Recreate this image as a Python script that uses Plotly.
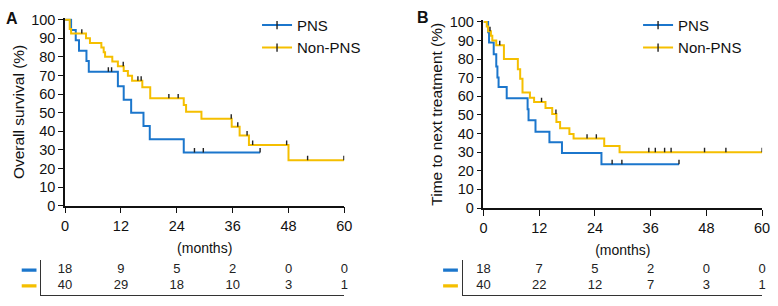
import plotly.graph_objects as go

# ---------------- data ----------------
# Panel A: overall survival (%)
A_PNS_t = [0, 1.3, 2.3, 3.0, 4.6, 5.1, 11.35, 12.6, 14.2, 16.85, 18.2, 25.5]
A_PNS_s = [100, 94.4, 88.9, 83.3, 77.8, 72.0, 64.2, 57.0, 49.9, 42.8, 35.7, 28.6]
A_PNS_cens = [9.3, 10.0, 27.8, 29.7, 41.9]

A_NON_t = [0, 1.0, 1.3, 4.5, 5.35, 7.8, 8.3, 8.6, 10.15, 11.35, 12.6, 13.5, 14.4,
           16.6, 18.3, 25.5, 26.0, 29.3, 35.8, 37.5, 39.5, 48.0]
A_NON_s = [100, 95, 92.5, 90, 87.5, 85, 82.5, 80, 77.5, 75, 72.4, 69.8, 67.2,
           63.7, 57.7, 54.1, 50.5, 46.7, 42.4, 37.8, 32.6, 24.4]
A_NON_cens = [3.6, 12.5, 15.65, 16.35, 22.3, 24.3, 35.7, 37.1, 39.1, 40.3, 47.6, 52.1, 59.9]

# Panel B: time to next treatment (%)
B_PNS_t = [0, 1.0, 1.2, 2.2, 2.75, 3.0, 3.25, 5.0, 9.5, 9.7, 11.2, 14.2, 16.9, 25.4]
B_PNS_s = [100, 94.4, 88.9, 82.6, 76.1, 70.1, 65.0, 59.0, 53.0, 47.1, 41.0, 35.4, 29.6, 23.5]
B_PNS_cens = [27.7, 29.8, 42.1]

B_NON_t = [0, 0.7, 1.0, 1.6, 1.9, 2.75, 4.4, 7.4, 7.9, 8.4, 10.0, 10.9, 13.35, 14.8,
           15.7, 16.5, 18.5, 19.4, 26.0, 29.3]
B_NON_s = [100, 97.5, 95, 92.5, 90, 87.5, 80, 74.5, 69.5, 62, 59.3, 56.9, 53.8, 50.5,
           46.2, 42.8, 39.8, 37.3, 33.3, 30.0]
B_NON_cens = [1.4, 3.5, 12.5, 15.6, 22.3, 24.3, 35.6, 37.0, 39.0, 40.4, 47.6, 52.2, 60.0]

# numbers at risk
RISK_T = [0, 12, 24, 36, 48, 60]
A_RISK_PNS = [18, 9, 5, 2, 0, 0]
A_RISK_NON = [40, 29, 18, 10, 3, 1]
B_RISK_PNS = [18, 7, 5, 2, 0, 0]
B_RISK_NON = [40, 22, 12, 7, 3, 1]

X_TICKS = [0, 12, 24, 36, 48, 60]
Y_TICKS = [0, 10, 20, 30, 40, 50, 60, 70, 80, 90, 100]
GROUPS = ["PNS", "Non-PNS"]

BLUE = "#1B76CC"
GOLD = "#F5BF00"
FONT = "Liberation Sans, Arial, sans-serif"
W, H = 778, 306


def step_val(ts, ss, t):
    v = ss[0]
    for ti, si in zip(ts, ss):
        if ti <= t:
            v = si
    return v


fig = go.Figure()


def add_curve(ts, ss, cens, color, xa, ya):
    end = max(max(cens), ts[-1])
    fig.add_trace(go.Scatter(x=ts + [end], y=ss + [ss[-1]], mode="lines",
                             line=dict(color=color, width=2, shape="hv"),
                             xaxis=xa, yaxis=ya, showlegend=False, hoverinfo="skip"))
    fig.add_trace(go.Scatter(x=cens, y=[step_val(ts, ss, c) for c in cens], mode="markers",
                             marker=dict(size=1, color="rgba(0,0,0,0)"),
                             error_y=dict(type="constant", symmetric=False, value=2.4,
                                          valueminus=0, width=0, thickness=1.4, color="#222"),
                             cliponaxis=False, xaxis=xa, yaxis=ya, showlegend=False,
                             hoverinfo="skip"))


add_curve(A_PNS_t, A_PNS_s, A_PNS_cens, BLUE, "x", "y")
add_curve(A_NON_t, A_NON_s, A_NON_cens, GOLD, "x", "y")
add_curve(B_PNS_t, B_PNS_s, B_PNS_cens, BLUE, "x2", "y2")
add_curve(B_NON_t, B_NON_s, B_NON_cens, GOLD, "x2", "y2")

# legend entries (line with a censor tick)
for leg, xa, ya in [("legend", "x", "y"), ("legend2", "x2", "y2")]:
    for name, color in zip(GROUPS, [BLUE, GOLD]):
        fig.add_trace(go.Scatter(x=[None], y=[None], mode="lines+markers", name=name,
                                 line=dict(color=color, width=2),
                                 marker=dict(symbol="line-ns", size=6,
                                             line=dict(width=1.4, color="#222")),
                                 xaxis=xa, yaxis=ya, legend=leg, showlegend=True))

# numbers-at-risk tables
for xa, ya, rp, rn in [("x3", "y3", A_RISK_PNS, A_RISK_NON), ("x4", "y4", B_RISK_PNS, B_RISK_NON)]:
    for row, vals in [(1, rp), (0, rn)]:
        fig.add_trace(go.Scatter(x=RISK_T, y=[row] * len(vals), mode="text",
                                 text=[str(v) for v in vals],
                                 textfont=dict(size=13, color="#222", family=FONT),
                                 cliponaxis=False, xaxis=xa, yaxis=ya, showlegend=False,
                                 hoverinfo="skip"))


def px_x(p):
    return p / W


def px_y(p):
    return 1 - p / H


main_x = dict(range=[0, 60], tickvals=X_TICKS, ticks="outside", ticklen=6, tickwidth=1.3,
              tickcolor="#111", showline=True, linecolor="#111", linewidth=1.5,
              showgrid=False, zeroline=False, tickfont=dict(size=14.5, color="#111"),
              title=dict(text="(months)", font=dict(size=14, color="#111"), standoff=10))
main_y = dict(range=[0, 100.8], tickvals=Y_TICKS, ticks="outside", ticklen=5, tickwidth=1.3,
              tickcolor="#111", showline=True, linecolor="#111", linewidth=1.5,
              showgrid=False, zeroline=False, tickfont=dict(size=14.5, color="#111"))
tab_common = dict(showline=True, linecolor="#333", linewidth=1.3, showticklabels=False,
                  ticks="", showgrid=False, zeroline=False)

fig.update_layout(
    width=W, height=H, margin=dict(l=0, r=0, t=0, b=0),
    paper_bgcolor="white", plot_bgcolor="white",
    font=dict(family=FONT, color="#111"),
    xaxis=dict(main_x, domain=[px_x(62), px_x(345.7)], anchor="y"),
    yaxis=dict(main_y, domain=[px_y(209.3), px_y(12.74)], anchor="x",
               title=dict(text="Overall survival (%)", font=dict(size=15.5, color="#111"),
                          standoff=3)),
    xaxis2=dict(main_x, domain=[px_x(487), px_x(770)], anchor="y2"),
    yaxis2=dict(main_y, domain=[px_y(211.7), px_y(15.1)], anchor="x2",
                title=dict(text="Time to next treatment (%)", font=dict(size=15.5, color="#111"),
                           standoff=3)),
    xaxis3=dict(tab_common, domain=[px_x(37.7), px_x(345.7)], range=[-5.14, 60], anchor="y3"),
    yaxis3=dict(tab_common, domain=[px_y(303), px_y(266)], range=[-0.584, 1.645], anchor="x3"),
    xaxis4=dict(tab_common, domain=[px_x(466), px_x(770)], range=[-4.45, 60], anchor="y4"),
    yaxis4=dict(tab_common, domain=[px_y(303), px_y(266)], range=[-0.584, 1.645], anchor="x4"),
    legend=dict(x=px_x(257), y=px_y(3), xanchor="left", yanchor="top",
                font=dict(size=15, color="#111"), bgcolor="rgba(0,0,0,0)", itemwidth=30),
    legend2=dict(x=px_x(644), y=px_y(3), xanchor="left", yanchor="top",
                 font=dict(size=15, color="#111"), bgcolor="rgba(0,0,0,0)", itemwidth=30),
    annotations=[
        dict(text="<b>A</b>", x=0, y=px_y(2), xref="paper", yref="paper",
             xanchor="left", yanchor="top", showarrow=False, font=dict(size=16, color="#111")),
        dict(text="<b>B</b>", x=px_x(417), y=px_y(1), xref="paper", yref="paper",
             xanchor="left", yanchor="top", showarrow=False, font=dict(size=16, color="#111")),
    ],
    shapes=[
        dict(type="line", xref="paper", yref="y3", x0=px_x(18), x1=px_x(33), y0=1, y1=1,
             line=dict(color=BLUE, width=3.3)),
        dict(type="line", xref="paper", yref="y3", x0=px_x(18), x1=px_x(33), y0=0, y1=0,
             line=dict(color=GOLD, width=3.3)),
        dict(type="line", xref="paper", yref="y4", x0=px_x(446), x1=px_x(461), y0=1, y1=1,
             line=dict(color=BLUE, width=3.3)),
        dict(type="line", xref="paper", yref="y4", x0=px_x(446), x1=px_x(461), y0=0, y1=0,
             line=dict(color=GOLD, width=3.3)),
    ],
)

fig.write_html("out.html", config={"displayModeBar": False},
               post_script="document.body.style.margin='0';document.body.style.padding='0';")
